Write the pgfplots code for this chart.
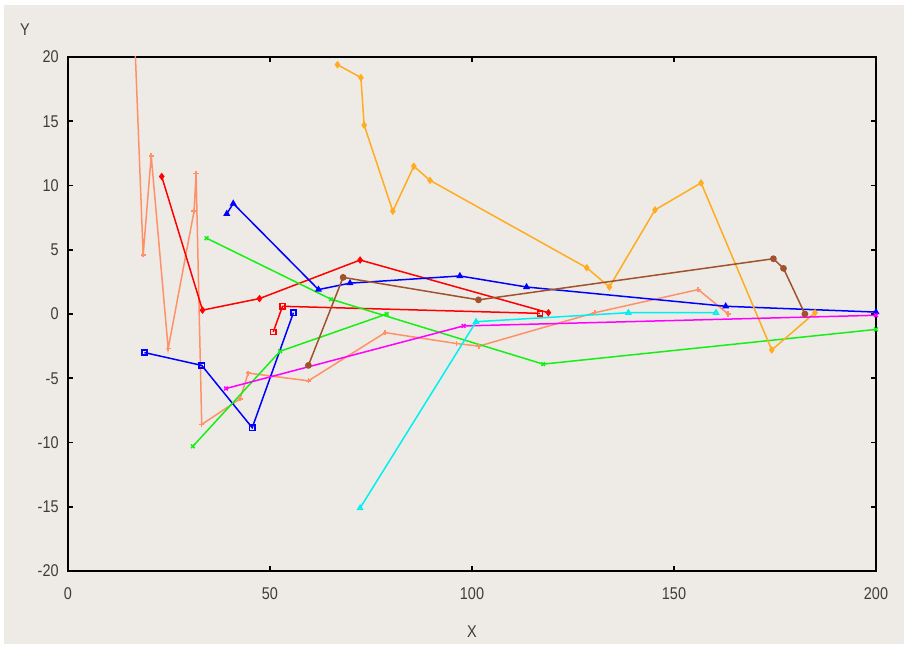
\documentclass[border=0pt]{standalone}
\usepackage{pgfplots}
\pgfplotsset{compat=1.18}
\usepackage{fontspec}
\setmainfont{Liberation Sans}
\usetikzlibrary{backgrounds}

\definecolor{bgc}{RGB}{238,235,231}
\definecolor{salm}{RGB}{255,145,105}
\definecolor{orng}{RGB}{255,172,30}
\definecolor{brwn}{RGB}{160,82,45}
\definecolor{lime}{RGB}{20,240,20}
\definecolor{cyn}{RGB}{0,240,240}
\definecolor{mgnt}{RGB}{255,0,255}
\definecolor{rd}{RGB}{255,0,0}
\definecolor{bl}{RGB}{0,0,255}
\definecolor{lbl}{RGB}{60,60,60}

\begin{document}
\begin{tikzpicture}
\begin{axis}[
  name=ax,
  scale only axis,
  width=404pt, height=257pt,
  xmin=0, xmax=200, ymin=-20, ymax=20,
  xtick={0,50,...,200}, ytick={-20,-15,...,20},
  tick align=inside, tick pos=both,
  major tick length=2.5pt,
  axis line style={line width=1pt},
  every tick/.style={black, line width=0.8pt},
  /pgf/number format/assume math mode=true,
  tick label style={font=\fontsize{8.5}{10}\selectfont, text=lbl, xscale=0.85},
  xticklabel style={yshift=-5pt},
  yticklabel style={xshift=-2pt},
  every axis plot/.append style={line width=0.75pt},
  mark size=1.3pt,
]
% salmon trajectory, plus marks
\addplot[salm, mark=+] coordinates {
  (16.2,24) (18.6,4.6) (20.6,12.3) (24.8,-2.7) (31.2,8.0) (31.7,10.95)
  (33.1,-8.6) (42.6,-6.6) (44.6,-4.6) (59.5,-5.2) (78.5,-1.45) (96.2,-2.3)
  (101.7,-2.5) (130.4,0.1) (156,1.9) (163.4,0.0)};
% red, filled marks
\addplot[rd, mark=diamond*] coordinates {
  (23.2,10.7) (33.3,0.3) (47.4,1.2) (72.3,4.2) (118.9,0.1)};
% red, squares
\addplot[rd, mark=square, mark options={rd}] coordinates {
  (50.8,-1.4) (53.1,0.6) (116.8,0.05)};
% blue, triangles
\addplot[bl, mark=triangle*] coordinates {
  (39.3,7.8) (40.9,8.6) (62,1.9) (69.8,2.4) (97,2.96) (113.5,2.1)
  (162.8,0.6) (200,0.15)};
% blue, squares
\addplot[bl, mark=square, mark options={bl}] coordinates {
  (18.9,-3.0) (33.1,-4.0) (45.6,-8.85) (55.8,0.1)};
% green, crosses
\addplot[lime, mark=x] coordinates {
  (34.3,5.9) (65.1,1.15) (117.6,-3.9) (200,-1.2)};
\addplot[lime, mark=x] coordinates {
  (30.9,-10.3) (52.5,-2.9) (78.9,0.0)};
% orange, diamonds
\addplot[orng, mark=diamond*] coordinates {
  (66.7,19.4) (72.5,18.4) (73.3,14.7) (80.4,8.0) (85.6,11.5) (89.6,10.4)
  (128.4,3.6) (134,2.1) (145.3,8.1) (156.7,10.2) (174.2,-2.8) (184.9,0.1)};
% brown, dots
\addplot[brwn, mark=*] coordinates {
  (59.5,-4.0) (68.1,2.85) (101.6,1.1) (174.6,4.3) (177.1,3.55) (182.4,0.0)};
% magenta, crosses
\addplot[mgnt, mark=x] coordinates {
  (39.1,-5.8) (97.9,-0.93) (200,-0.1)};
% cyan, open triangles
\addplot[cyn, mark=triangle] coordinates {
  (72.3,-15.1) (101,-0.6) (138.7,0.1) (160.4,0.1)};
\end{axis}

\node[text=lbl, font=\fontsize{8.5}{10}\selectfont, xscale=0.85]
  at ([xshift=-21.5pt, yshift=13.5pt]ax.north west) {Y};
\node[text=lbl, font=\fontsize{8.5}{10}\selectfont, xscale=0.85]
  at ([yshift=-30.5pt]ax.south) {X};

\begin{scope}[on background layer]
  \fill[white] ([xshift=-34pt, yshift=-36.5pt]ax.south west)
    rectangle ([xshift=14pt, yshift=28.5pt]ax.north east);
  \fill[bgc] ([xshift=-32pt, yshift=-36.5pt]ax.south west)
    rectangle ([xshift=14pt, yshift=26pt]ax.north east);
\end{scope}
\end{tikzpicture}
\end{document}
